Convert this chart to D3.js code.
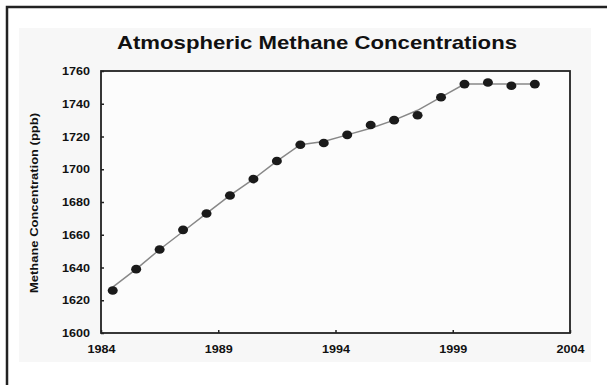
<!DOCTYPE html>
<html><head><meta charset="utf-8">
<script src="https://cdn.jsdelivr.net/npm/d3@7"></script>
<style>html,body{margin:0;padding:0;background:#fff;}svg{display:block;}</style>
</head><body>
<script>
const title = "Atmospheric Methane Concentrations";
const yTitle = "Methane Concentration (ppb)";
const years = [1984.5,1985.5,1986.5,1987.5,1988.5,1989.5,1990.5,1991.5,1992.5,1993.5,1994.5,1995.5,1996.5,1997.5,1998.5,1999.5,2000.5,2001.5,2002.5];
const methane = [1626,1639,1651,1663,1673,1684,1694,1705,1715,1716,1721,1727,1730,1733,1744,1752,1753,1751,1752];
const trend = [1628,1639,1651,1662,1673,1684,1694,1705,1715,1717,1721,1725,1730,1736,1744,1752,1752,1752,1752];
const xTicks = [1984,1989,1994,1999,2004];
const yTicks = [1600,1620,1640,1660,1680,1700,1720,1740,1760];

const W = 607, H = 385;
const svg = d3.select("body").append("svg").attr("width", W).attr("height", H);
const font = "'Liberation Sans', Arial, sans-serif";

// outer frame
svg.append("rect").attr("x",0).attr("y",0).attr("width",W).attr("height",H).attr("fill","#fff");
svg.append("path").attr("d","M7,400 L7,7 L620,7").attr("fill","none").attr("stroke","#222").attr("stroke-width",2.5);
svg.append("rect").attr("x",19).attr("y",28).attr("width",572).attr("height",334).attr("fill","#f7f7f7");

const m = {l:101, r:570, t:71, b:333};
const x = d3.scaleLinear().domain([1984,2004]).range([m.l,m.r]);
const y = d3.scaleLinear().domain([1600,1760]).range([m.b,m.t]);

svg.append("rect").attr("x",m.l).attr("y",m.t).attr("width",m.r-m.l).attr("height",m.b-m.t).attr("fill","#fcfcfc");

// title
svg.append("text").attr("x",317).attr("y",49).attr("text-anchor","middle")
  .attr("font-family",font).attr("font-weight","bold").attr("font-size",19).attr("fill","#111")
  .attr("textLength",400).attr("lengthAdjust","spacingAndGlyphs")
  .text(title);

// axes
const ya = svg.append("g").attr("transform",`translate(${m.l},0)`)
  .call(d3.axisLeft(y).tickValues(yTicks).tickSize(-3).tickPadding(11).tickFormat(d3.format("d")));
const xa = svg.append("g").attr("transform",`translate(0,${m.b})`)
  .call(d3.axisBottom(x).tickValues(xTicks).tickSize(-3).tickPadding(12).tickFormat(d3.format("d")));
[ya,xa].forEach(g=>{
  g.select(".domain").remove();
  g.selectAll(".tick line").attr("stroke","#222").attr("stroke-width",1.5);
  g.selectAll("text").attr("font-family",font).attr("font-weight","bold").attr("font-size",11.5).attr("fill","#111")
    .attr("textLength",28).attr("lengthAdjust","spacingAndGlyphs");
});

// frame of plot
svg.append("rect").attr("x",m.l).attr("y",m.t).attr("width",m.r-m.l).attr("height",m.b-m.t)
  .attr("fill","none").attr("stroke","#222").attr("stroke-width",1.8);

// y title
svg.append("text").attr("transform",`translate(38,${(m.t+m.b)/2+1}) rotate(-90)`)
  .attr("text-anchor","middle").attr("font-family",font).attr("font-weight","bold")
  .attr("font-size",11.5).attr("fill","#111")
  .attr("textLength",180).attr("lengthAdjust","spacingAndGlyphs").text(yTitle);

// trend line
svg.append("path").datum(years.map((d,i)=>[d,trend[i]]))
  .attr("d", d3.line().x(d=>x(d[0])).y(d=>y(d[1])))
  .attr("fill","none").attr("stroke","#888").attr("stroke-width",1.5);

// points
svg.selectAll("ellipse.pt").data(years.map((d,i)=>[d,methane[i]])).join("ellipse")
  .attr("class","pt").attr("cx",d=>x(d[0])).attr("cy",d=>y(d[1]))
  .attr("rx",5).attr("ry",4.3).attr("fill","#1a1a1a");
</script>
</body></html>
